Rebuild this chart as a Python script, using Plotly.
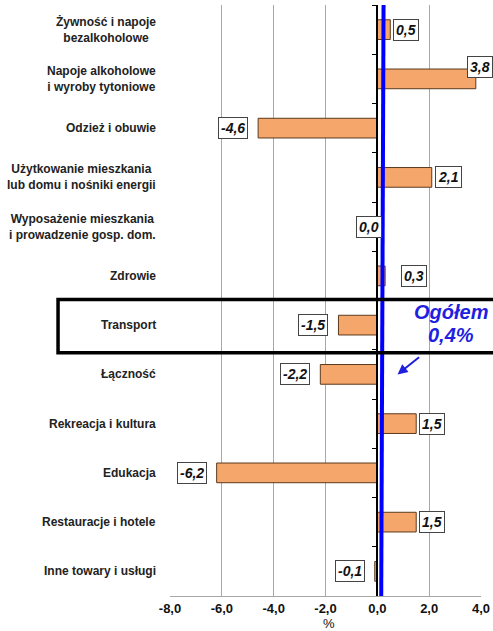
import plotly.graph_objects as go

categories = [
    "Żywność i napoje<br>bezalkoholowe",
    "Napoje alkoholowe<br>i wyroby tytoniowe",
    "Odzież i obuwie",
    "Użytkowanie mieszkania<br>lub domu i nośniki energii",
    "Wyposażenie mieszkania<br>i prowadzenie gosp. dom.",
    "Zdrowie",
    "Transport",
    "Łączność",
    "Rekreacja i kultura",
    "Edukacja",
    "Restauracje i hotele",
    "Inne towary i usługi",
]
values = [0.5, 3.8, -4.6, 2.1, 0.0, 0.3, -1.5, -2.2, 1.5, -6.2, 1.5, -0.1]
x_tick_vals = [-8, -6, -4, -2, 0, 2, 4]
x_tick_text = ["-8,0", "-6,0", "-4,0", "-2,0", "0,0", "2,0", "4,0"]
overall_value = 0.4
overall_label_lines = ["Ogółem", "0,4%"]
highlight_category = "Transport"

FONT = "Liberation Sans, Arial, sans-serif"
X_MIN, X_MAX = -8, 4

fig = go.Figure()
fig.add_trace(go.Bar(
    y=categories, x=values, orientation="h", width=0.4,
    marker=dict(color="#F5A66A", line=dict(color="#5B3A1E", width=1)),
    hoverinfo="x+y", showlegend=False,
))

annotations = []
# category labels
for c in categories:
    annotations.append(dict(
        x=0, xref="paper", y=c, yref="y", xanchor="right", xshift=-12,
        text="<b>" + c + "</b>", showarrow=False, align="center",
        font=dict(family=FONT, size=12, color="#222222"),
    ))
# value labels
for c, v in zip(categories, values):
    txt = "<b><i>" + f"{v:.1f}".replace(".", ",") + "</i></b>"
    lab = dict(y=c, yref="y", x=v, xref="x", text=txt, showarrow=False,
               font=dict(family=FONT, size=14, color="#111111"),
               bgcolor="white", bordercolor="#444444", borderwidth=1, borderpad=2)
    if v > 0:
        if v + 1.3 > X_MAX:
            lab.update(xanchor="center", xshift=4, yshift=12)
        elif v < overall_value:
            lab.update(xanchor="left", xshift=16)
        else:
            lab.update(xanchor="left", xshift=3)
    elif v < 0:
        lab.update(xanchor="right", xshift=-10)
    else:
        lab.update(xanchor="right", xshift=5)
    annotations.append(lab)

# overall text and arrow
cat_index = categories.index(highlight_category)
for line, ys in zip(overall_label_lines, [13, -10]):
    annotations.append(dict(
        x=2.86, xref="x", y=highlight_category, yref="y", yshift=ys,
        text="<b><i>" + line + "</i></b>", showarrow=False, align="center",
        font=dict(family=FONT, size=20, color="#1F1FE0"),
    ))
annotations.append(dict(
    x=0.78, xref="x", y=categories[cat_index + 1], yref="y", text=" ",
    showarrow=True, arrowhead=2, arrowsize=1, arrowwidth=2, arrowcolor="#1F1FE0",
    ax=25, ay=-20,
))
# axis unit
annotations.append(dict(
    x=-1.85, xref="x", y=-0.047, yref="paper", text="%", showarrow=False,
    yanchor="middle", font=dict(family=FONT, size=13, color="#111111"),
))

shapes = [
    # overall line
    dict(type="line", xref="x", yref="paper", x0=0.15, y0=0, x1=0.24, y1=1,
         line=dict(color="#0000FF", width=4), layer="above"),
    # highlight rectangle
    dict(type="rect", xref="paper", yref="y", x0=-0.36, x1=1.06,
         y0=cat_index - 0.52, y1=cat_index + 0.56,
         line=dict(color="black", width=3.5), layer="above"),
]

fig.update_layout(
    width=493, height=631,
    margin=dict(l=170, r=12, t=5, b=35, autoexpand=False),
    paper_bgcolor="white", plot_bgcolor="white",
    font=dict(family=FONT, size=13, color="#111111"),
    bargap=0.6,
    annotations=annotations, shapes=shapes,
    xaxis=dict(
        range=[X_MIN, X_MAX], tickvals=x_tick_vals,
        ticktext=["<b>" + t + "</b>" for t in x_tick_text],
        showgrid=True, gridcolor="#A8A8A8", gridwidth=1,
        zeroline=False, showline=True, linecolor="#A8A8A8", linewidth=1,
        ticks="", tickfont=dict(family=FONT, size=13, color="#111111"),
        fixedrange=True, automargin=False,
    ),
    yaxis=dict(
        type="category", categoryorder="array", categoryarray=categories,
        range=[len(categories) - 0.5, -0.5],
        showticklabels=False, showgrid=False, zeroline=False,
        anchor="free", position=(0 - X_MIN) / (X_MAX - X_MIN),
        showline=True, linecolor="black", linewidth=2,
        ticks="outside", tickson="boundaries", ticklen=4, tickcolor="black",
        tickwidth=1, fixedrange=True, automargin=False,
    ),
)

fig.write_html(
    "out.html",
    config={"displayModeBar": False},
    post_script="document.body.style.margin='0';document.body.style.overflow='hidden';",
)
